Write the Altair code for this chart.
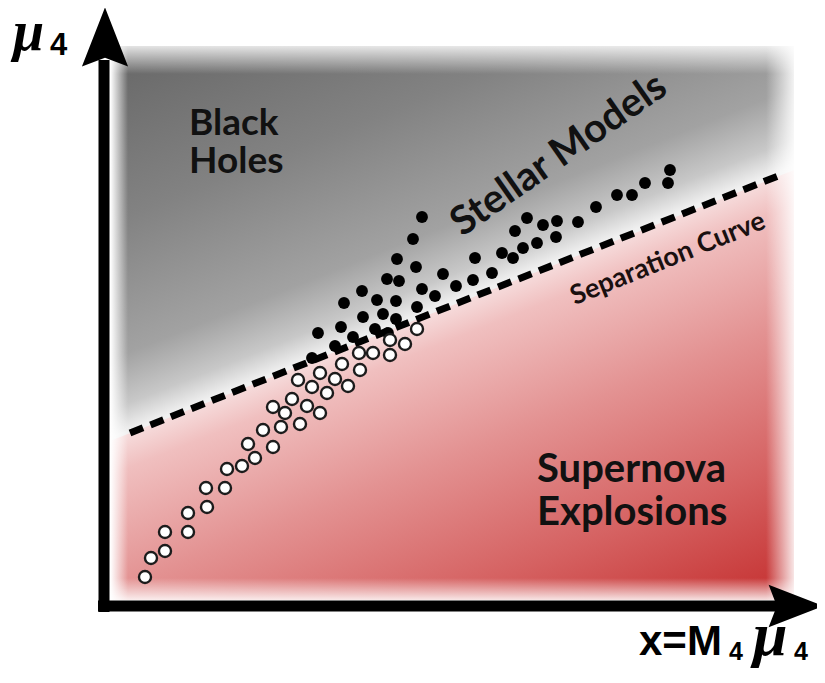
import altair as alt
import pandas as pd

# ---- data (units: pixels from the axis corner) ----
black_x = [318, 309, 293, 312, 283, 295, 258, 273, 292, 318, 331, 240, 313, 259, 279, 292,
           214, 237, 249, 271, 284, 231, 208, 339, 352, 369, 388, 371, 398, 409, 411, 423,
           419, 433, 439, 453, 452, 474, 492, 513, 528, 541, 566, 564]
black_y = [389, 367, 347, 339, 327, 325, 315, 306, 305, 317, 310, 303, 299, 289, 292, 287,
           273, 279, 269, 277, 273, 260, 248, 332, 320, 326, 333, 348, 353, 348, 375, 388,
           358, 363, 381, 385, 369, 384, 399, 411, 411, 423, 436, 423]

white_x = [41, 47, 61, 61, 84, 84, 103, 102, 121, 123, 138, 151, 144, 169, 159, 177, 196, 169,
           181, 188, 203, 216, 194, 208, 216, 223, 231, 244, 238, 255, 256, 269, 286, 286, 301, 313]
white_y = [29, 48, 55, 74, 74, 93, 99, 118, 118, 137, 140, 148, 162, 159, 176, 179, 182, 199,
           193, 207, 200, 193, 226, 219, 233, 213, 227, 220, 242, 253, 236, 253, 251, 266, 262, 277]

sep_x = [26, 674]
sep_y = [173, 430]

plot_x = [6, 690]
plot_y = [6, 560]
red_edge_x = [6, 690]
red_edge_y = [165, 436]

region_text = ["Black", "Holes", "Supernova", "Explosions"]
region_tx = [85, 85, 433, 433]
region_ty = [471, 433, 124, 81]

W, H = 809, 662
xs = alt.Scale(domain=[-96, 713], nice=False, zero=False)
ys = alt.Scale(domain=[-64, 598], nice=False, zero=False)


def X(f="x"):
    return alt.X(f"{f}:Q", scale=xs, axis=None)


def Y(f="y"):
    return alt.Y(f"{f}:Q", scale=ys, axis=None)


def grad(stops, x1, y1, x2, y2):
    return alt.LinearGradient(
        gradient="linear",
        stops=[alt.GradientStop(offset=o, color=c) for o, c in stops],
        x1=x1, y1=y1, x2=x2, y2=y2,
    )


def box(x0, x1, y0, y1):
    return pd.DataFrame({"x": [x0], "x2": [x1], "y": [y0], "y2": [y1]})


def rect_layer(df, fill):
    return alt.Chart(df).mark_rect(fill=fill).encode(
        x=X("x"), x2=alt.X2("x2"), y=Y("y"), y2=alt.Y2("y2"))


# gray background (black-hole region)
gray = rect_layer(
    box(plot_x[0], plot_x[1], plot_y[0], plot_y[1]),
    grad([(0, "#666666"), (0.45, "#828282"), (0.8, "#a2a2a2"),
          (0.93, "#c8c8c8"), (1.0, "#f0f0f0")], 0, 0, 0.28, 0.57),
)

# red area below the separation line
red_df = pd.DataFrame({"x": red_edge_x, "y": red_edge_y, "y2": [plot_y[0]] * 2})
red = alt.Chart(red_df).mark_area(
    fill=grad([(0, "#f6dcdc"), (0.08, "#f0bfbf"), (0.35, "#e39292"),
               (0.68, "#d56161"), (1.0, "#c42e2e")], 0.5, 0.315, 0.95, 1.03)
).encode(x=X("x"), y=Y("y"), y2=alt.Y2("y2"))

W0 = "rgba(255,255,255,0)"
W1 = "rgba(255,255,255,1)"
fade_top = rect_layer(box(2, 694, 532, 566), grad([(0, W1), (1, W0)], 0, 0, 0, 1))
fade_bot = rect_layer(box(2, 694, 2, 28), grad([(0, W0), (1, W1)], 0, 0, 0, 1))
fade_left = rect_layer(box(2, 24, 2, 566), grad([(0, W1), (0.2, W1), (1, W0)], 0, 0, 1, 0))
fade_right = rect_layer(box(662, 694, 2, 566), grad([(0, W0), (1, W1)], 0, 0, 1, 0))

sep = alt.Chart(pd.DataFrame({"x": sep_x, "y": sep_y})).mark_line(
    color="black", strokeWidth=7, strokeDash=[14, 8], strokeCap="butt"
).encode(x=X(), y=Y())

blacks = alt.Chart(pd.DataFrame({"x": black_x, "y": black_y})).mark_circle(
    color="black", size=140, opacity=1
).encode(x=X(), y=Y())

whites = alt.Chart(pd.DataFrame({"x": white_x, "y": white_y})).mark_circle(
    fill="white", stroke="#1c1c1c", strokeWidth=2.4, size=145, opacity=1
).encode(x=X(), y=Y())

regions = alt.Chart(pd.DataFrame({"x": region_tx[:2], "y": region_ty[:2], "t": region_text[:2]})).mark_text(
    font="Lato", fontWeight="bold", fontSize=37, align="left", baseline="alphabetic", color="#111111"
).encode(x=X(), y=Y(), text="t:N")

regions2 = alt.Chart(pd.DataFrame({"x": region_tx[2:], "y": region_ty[2:], "t": region_text[2:]})).mark_text(
    font="Lato", fontWeight="bold", fontSize=40, align="left", baseline="alphabetic", color="#111111"
).encode(x=X(), y=Y(), text="t:N")

stellar = alt.Chart(pd.DataFrame({"x": [455], "y": [451], "t": ["Stellar Models"]})).mark_text(
    font="Lato", fontWeight="bold", fontSize=40, align="center", baseline="middle",
    angle=325, color="#111111"
).encode(x=X(), y=Y(), text="t:N")

sepcurve = alt.Chart(pd.DataFrame({"x": [564], "y": [347], "t": ["Separation Curve"]})).mark_text(
    font="Lato", fontWeight="bold", fontSize=27, align="center", baseline="middle",
    angle=338, color="#1a1010"
).encode(x=X(), y=Y(), text="t:N")

# axes with arrow heads
axes_df = pd.DataFrame({"x": [0, -6], "y": [-6, 0], "x2": [0, 680], "y2": [546, 0]})
axes = alt.Chart(axes_df).mark_rule(color="black", strokeWidth=11, strokeCap="butt").encode(
    x=X("x"), y=Y("y"), x2=alt.X2("x2"), y2=alt.Y2("y2"))

ARROW = "M0,-1L0.78,1L0,0.7L-0.78,1Z"
head_up = alt.Chart(pd.DataFrame({"x": [1], "y": [569]})).mark_point(
    shape=ARROW, filled=True, fill="black", size=3500, opacity=1, strokeWidth=0
).encode(x=X(), y=Y())
head_right = alt.Chart(pd.DataFrame({"x": [692], "y": [0]})).mark_point(
    shape=ARROW, filled=True, fill="black", size=3000, angle=90, opacity=1, strokeWidth=0
).encode(x=X(), y=Y())

# axis labels
mu_df = pd.DataFrame({"x": [-91, 649], "y": [556, -49], "t": ["\u03bc", "\u03bc"], "s": [56, 62]})
mus = alt.Chart(mu_df).mark_text(
    font="Liberation Serif", fontWeight="bold", fontStyle="italic",
    align="left", baseline="alphabetic", color="black"
).encode(x=X(), y=Y(), text="t:N", size=alt.Size("s:Q", scale=None, legend=None))

sub_df = pd.DataFrame({"x": [-54, 625, 690], "y": [551, -54, -54], "t": ["4", "4", "4"],
                       "s": [31, 25, 25]})
subs = alt.Chart(sub_df).mark_text(
    font="Liberation Sans", fontWeight="bold", align="left", baseline="alphabetic", color="black"
).encode(x=X(), y=Y(), text="t:N", size=alt.Size("s:Q", scale=None, legend=None))

xlab = alt.Chart(pd.DataFrame({"x": [535], "y": [-49], "t": ["x=M"]})).mark_text(
    font="Liberation Sans", fontWeight="bold", fontSize=42, align="left",
    baseline="alphabetic", color="black"
).encode(x=X(), y=Y(), text="t:N")

chart = alt.layer(
    gray, red, fade_top, fade_bot, fade_left, fade_right,
    sep, blacks, whites, regions, regions2, stellar, sepcurve,
    axes, head_up, head_right, mus, subs, xlab,
).properties(
    width=W, height=H, padding=0, background="white",
    autosize=alt.AutoSizeParams(type="none"),
).configure_view(stroke=None)

chart.save("out.html", embed_options={"renderer": "svg", "actions": False})
